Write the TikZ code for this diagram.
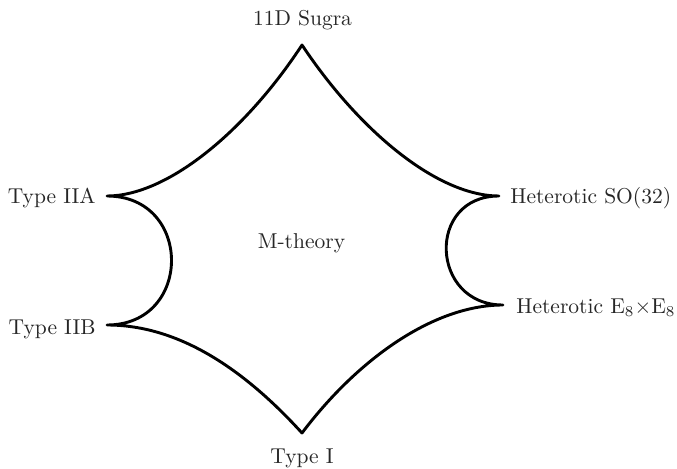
\documentclass[tikz,border=0pt]{standalone}
\usepackage{amsmath}
\usepackage{tikz}
\usetikzlibrary{positioning,calc}
\tikzset{
  theory/.style={inner sep=0pt, font=\normalsize, text=black!85},
  moduli/.style={line width=1.35pt, black, line join=round},
}
\begin{document}
\begin{tikzpicture}[x=0.465pt, y=0.465pt]
  \useasboundingbox (0,0) rectangle (677,468);
  % Cusps of the moduli space
  \coordinate (top) at (302,423);
  \coordinate (lu)  at (107,272);
  \coordinate (ll)  at (107,143);
  \coordinate (bot) at (302,35);
  \coordinate (ru)  at (499,272);
  \coordinate (rl)  at (503,163);
  % Limits
  \node[theory, anchor=base] (sugra) at (302.5,443) {11D Sugra};
  \node[theory, anchor=base east] (iia) at (96,265) {Type IIA};
  \node[theory, anchor=base east] (iib) at (96,134) {Type IIB};
  \node[theory, anchor=base west] (so) at (510,265) {Heterotic SO(32)};
  \node[theory, anchor=base west] (ee) at (516,155) {Heterotic E$_8\times$E$_8$};
  \node[theory, anchor=base] (typei) at (302,5) {Type I};
  \node[theory, anchor=base] (mth) at (301.5,220) {M-theory};
  % Boundary
  \draw[moduli] (lu) .. controls (167,272) and (245,336) .. (top)
    .. controls (360,336) and (438,272) .. (ru)
    .. controls (426,272) and (430,163) .. (rl)
    .. controls (433,163) and (357,108) .. (bot)
    .. controls (242,101) and (177,143) .. (ll)
    .. controls (193,143) and (193,272) .. cycle;
\end{tikzpicture}
\end{document}
